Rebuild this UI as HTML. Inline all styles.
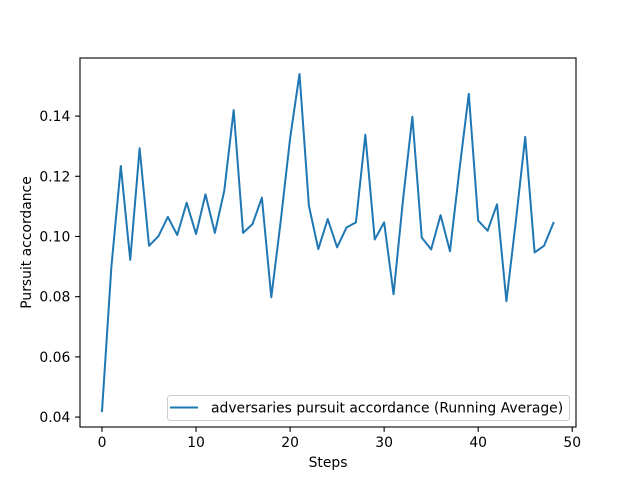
<!DOCTYPE html>
<html><head><meta charset="utf-8"><style>
body{margin:0;background:#fff}
svg text{font-family:"DejaVu Sans","Liberation Sans",sans-serif;fill:#000}
</style></head><body>
<svg id="chart" width="640" height="480" xmlns="http://www.w3.org/2000/svg"></svg>
<script>
const steps = [];
for (let i = 0; i < 49; i++) steps.push(i);
const values = [0.042,0.090,0.1234,0.0922,0.1293,0.0969,0.1001,0.1065,0.1005,0.1112,0.1008,0.1140,0.1012,0.1152,0.1420,0.1012,0.1041,0.1129,0.0798,0.105,0.1326,0.1540,0.1102,0.0958,0.1058,0.0964,0.1030,0.1047,0.1338,0.0990,0.1047,0.0808,0.112,0.1398,0.0996,0.0957,0.1071,0.0951,0.122,0.1474,0.1053,0.1019,0.1107,0.0785,0.105,0.1331,0.0947,0.0969,0.1045];
const xTicks = [0,10,20,30,40,50];
const yTicks = [0.04,0.06,0.08,0.10,0.12,0.14];
const yTickLabels = ["0.04","0.06","0.08","0.10","0.12","0.14"];

const L=80,R=576,T=58,B=427;
const xMin=-2.34,xMax=50.4,yMin=0.0367,yMax=0.1593;
const xs=v=>L+(v-xMin)/(xMax-xMin)*(R-L);
const ys=v=>B-(v-yMin)/(yMax-yMin)*(B-T);
const svg=document.getElementById('chart');
const NS="http://www.w3.org/2000/svg";
const FS=13.9;
function mk(tag,attrs,parent){const e=document.createElementNS(NS,tag);for(const k in attrs)e.setAttribute(k,attrs[k]);(parent||svg).appendChild(e);return e;}

let d=steps.map((s,i)=>(i?'L':'M')+xs(s).toFixed(2)+','+ys(values[i]).toFixed(2)).join(' ');
const line=mk('path',{d:d,fill:'none',stroke:'#1f77b4','stroke-width':2,'stroke-linejoin':'round','stroke-linecap':'square'});



const frame=mk('rect',{x:L,y:T,width:R-L,height:B-T,fill:'none',stroke:'#000','stroke-width':1.1});



xTicks.forEach(t=>{
  const x=xs(t);
  const tk=mk('line',{x1:x,x2:x,y1:B,y2:B+4.9,stroke:'#000','stroke-width':1.1});
  
  
  const tx=mk('text',{x:x,y:447,'font-size':FS,'text-anchor':'middle'});
  tx.textContent=t;
  
  
});
yTicks.forEach((t,i)=>{
  const y=ys(t);
  const tk=mk('line',{x1:L-4.9,x2:L,y1:y,y2:y,stroke:'#000','stroke-width':1.1});
  
  
  const tx=mk('text',{x:L-9.7,y:y+5,'font-size':FS,'text-anchor':'end'});
  tx.textContent=yTickLabels[i];
  
  
});
const xt=mk('text',{x:(L+R)/2,y:467,'font-size':FS,'text-anchor':'middle'});
xt.textContent='Steps';


const yt=mk('text',{x:0,y:0,'font-size':FS,'text-anchor':'middle',transform:'translate(31,242.5) rotate(-90)'});
yt.textContent='Pursuit accordance';



const lg=mk('g',{});


mk('rect',{x:167.5,y:395.5,width:402,height:25,rx:3,fill:'#fff','fill-opacity':0.8,stroke:'#ccc','stroke-width':1},lg);
const ll=mk('line',{x1:170,x2:198,y1:407.5,y2:407.5,stroke:'#1f77b4','stroke-width':2},lg);


const lt=mk('text',{x:211,y:412.5,'font-size':FS},lg);
lt.textContent='adversaries pursuit accordance (Running Average)';


</script>
</body></html>
